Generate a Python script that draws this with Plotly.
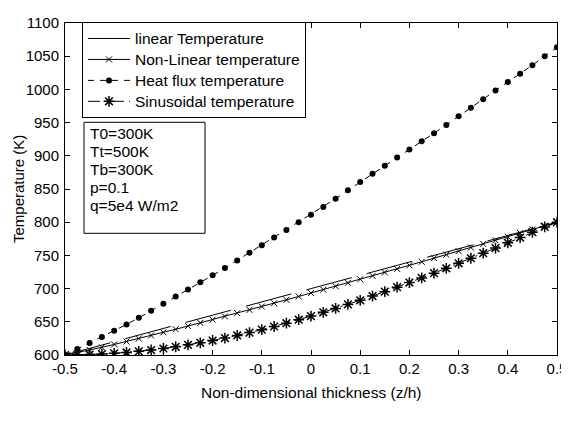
import plotly.graph_objects as go

z = [-0.5, -0.475, -0.45, -0.425, -0.4, -0.375, -0.35, -0.325, -0.3, -0.275,
     -0.25, -0.225, -0.2, -0.175, -0.15, -0.125, -0.1, -0.075, -0.05, -0.025,
     0.0, 0.025, 0.05, 0.075, 0.1, 0.125, 0.15, 0.175, 0.2, 0.225,
     0.25, 0.275, 0.3, 0.325, 0.35, 0.375, 0.4, 0.425, 0.45, 0.475, 0.5]

linear_T = [600, 605, 610, 615, 620, 625, 630, 635, 640, 645,
            650, 655, 660, 665, 670, 675, 680, 685, 690, 695,
            700, 705, 710, 715, 720, 725, 730, 735, 740, 745,
            750, 755, 760, 765, 770, 775, 780, 785, 790, 795, 800]

nonlinear_T = [600, 603.5, 607.5, 611.6, 615.9, 620.3, 624.8, 629.4, 634.1, 638.8,
               643.6, 648.4, 653.2, 658.1, 663.0, 668.0, 673.0, 678.0, 683.1, 688.2,
               693.3, 698.4, 703.5, 708.7, 714.0, 719.2, 724.4, 729.7, 735.1, 740.4,
               745.8, 751.1, 756.5, 761.9, 767.3, 772.7, 778.1, 783.6, 789.0, 794.5, 800]

heatflux_T = [600, 609, 618, 627, 636.5, 646, 656, 666.5, 677, 688,
              698.6, 709.5, 720, 731, 742.5, 754, 765.3, 777, 788.3, 800,
              811.3, 823, 835.5, 848, 860.5, 872.8, 885, 897.3, 909.5, 921.8,
              934, 946.5, 959.5, 972.3, 985.3, 998.5, 1011, 1023.5, 1036.5, 1050, 1063.5]

sinus_T = [600, 600.2, 600.6, 601.4, 602.5, 603.8, 605.5, 607.5, 609.8, 612.4,
           615.3, 618.4, 621.8, 625.5, 629.4, 633.7, 638.2, 642.9, 647.9, 653.2,
           658.6, 664.3, 670.1, 676.2, 682.4, 688.8, 695.4, 702.2, 709.1, 716.1,
           723.3, 730.6, 738.1, 745.7, 753.4, 761.1, 769.0, 776.9, 784.9, 792.9, 800]

x_tickvals = [-0.5, -0.4, -0.3, -0.2, -0.1, 0, 0.1, 0.2, 0.3, 0.4, 0.5]
x_ticktext = ["-0.5", "-0.4", "-0.3", "-0.2", "-0.1", "0", "0.1", "0.2", "0.3", "0.4", "0.5"]
y_tickvals = [600, 650, 700, 750, 800, 850, 900, 950, 1000, 1050, 1100]

series_names = ["linear Temperature", "Non-Linear temperature",
                "Heat flux temperature", "Sinusoidal temperature"]
info_lines = ["T0=300K", "Tt=500K", "Tb=300K", "p=0.1", "q=5e4 W/m2"]

FONT = "Liberation Sans, Arial, sans-serif"

# layout geometry (pixels); the page body adds an 8px offset
W, H = 569, 426
ML, MR, MT, MB = 57, 20, 6, 79
PW, PH = W - ML - MR, H - MT - MB


def px_x(p):  # pixel offset from plot left -> paper x
    return p / PW


def px_y(p):  # pixel offset from plot top -> paper y
    return 1 - p / PH


def legend_label(s):
    return '<span style="font-size:15.5px">' + s + '</span>'


fig = go.Figure()
fig.add_trace(go.Scatter(x=z, y=linear_T, mode="lines", name=legend_label(series_names[0]),
                         line=dict(color="black", width=1, dash="47px,15.5px")))
fig.add_trace(go.Scatter(x=z, y=nonlinear_T, mode="lines+markers",
                         name=legend_label(series_names[1]),
                         line=dict(color="black", width=1),
                         marker=dict(symbol="x-thin-open", size=6, color="black",
                                     line=dict(color="black", width=1))))
fig.add_trace(go.Scatter(x=z, y=heatflux_T, mode="lines+markers",
                         name=legend_label(series_names[2]),
                         line=dict(color="black", width=1, dash="6px,6px"),
                         marker=dict(symbol="circle", size=6, color="black")))
fig.add_trace(go.Scatter(x=z, y=sinus_T, mode="lines+markers",
                         name=legend_label(series_names[3]),
                         line=dict(color="black", width=1, dash="12px,5px,2px,5px"),
                         marker=dict(symbol="asterisk-open", size=9, color="black",
                                     line=dict(color="black", width=1.5))))

# parameter text box
box_l, box_t, box_w, box_h = 19, 102, 121, 114
fig.add_shape(type="rect", xref="paper", yref="paper",
              x0=px_x(box_l), x1=px_x(box_l + box_w),
              y0=px_y(box_t + box_h), y1=px_y(box_t),
              line=dict(color="black", width=1), fillcolor="white", layer="above")
for i, line in enumerate(info_lines):
    fig.add_annotation(text=line, xref="paper", yref="paper",
                       x=px_x(box_l + 4), y=px_y(box_t + 12 + 18.25 * i),
                       xanchor="left", yanchor="middle", showarrow=False,
                       font=dict(family=FONT, size=15.5, color="black"))

# axis titles
fig.add_annotation(text="Non-dimensional thickness (z/h)", xref="paper", yref="paper",
                   x=0.5, y=px_y(PH + 39), xanchor="center", yanchor="middle",
                   showarrow=False, font=dict(family=FONT, size=15.5, color="black"))
fig.add_annotation(text="Temperature (K)", xref="paper", yref="paper",
                   x=px_x(10 - ML), y=0.5, xanchor="center", yanchor="middle",
                   textangle=-90, showarrow=False,
                   font=dict(family=FONT, size=15, color="black"))

axis_common = dict(showline=True, linecolor="black", linewidth=1, mirror="ticks",
                   ticks="inside", ticklen=5, tickcolor="black", showgrid=False,
                   zeroline=False, ticklabeloverflow="allow",
                   tickfont=dict(family=FONT, size=15, color="black"))

fig.update_layout(
    width=W, height=H,
    margin=dict(l=ML, r=MR, t=MT, b=MB),
    paper_bgcolor="white", plot_bgcolor="white",
    font=dict(family=FONT, size=15, color="black"),
    xaxis=dict(range=[-0.5, 0.5], tickvals=x_tickvals, ticktext=x_ticktext,
               **axis_common),
    yaxis=dict(range=[600, 1100], tickvals=y_tickvals, ticklabelstandoff=2,
               **axis_common),
    legend=dict(x=px_x(17), y=px_y(-1), xanchor="left", yanchor="top",
                bordercolor="black", borderwidth=1, bgcolor="white",
                font=dict(family=FONT, size=13.8, color="black"),
                tracegroupgap=0, itemwidth=42),
    showlegend=True,
)

fig.write_html("out.html")
